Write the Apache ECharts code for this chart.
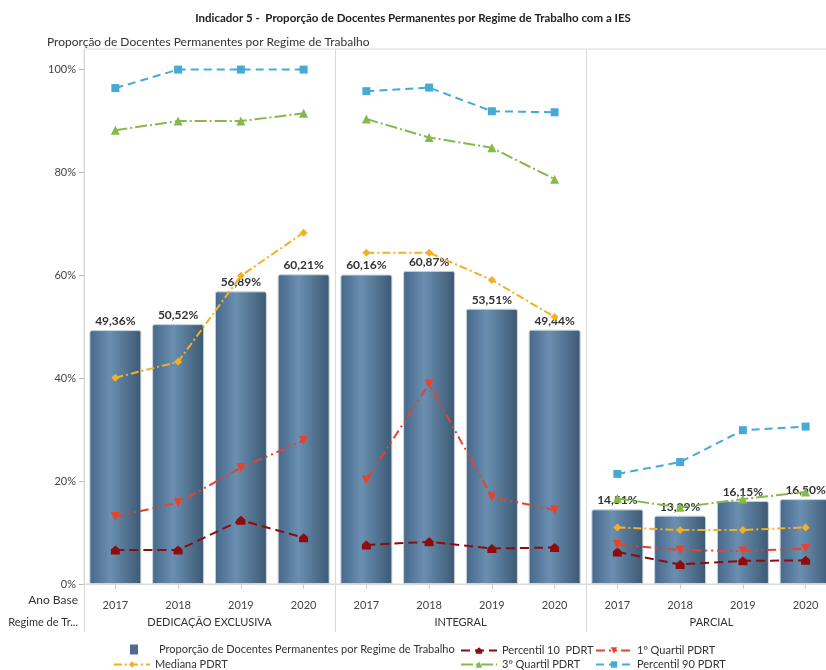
<!DOCTYPE html>
<html>
<head>
<meta charset="utf-8">
<script src="https://cdn.jsdelivr.net/npm/echarts@6/dist/echarts.min.js"></script>
<style>
  html, body { margin: 0; padding: 0; background: #fff; }
  #chart { width: 826px; height: 670px; }
</style>
</head>
<body>
<div id="chart"></div>
<script>
// Groups (regime de trabalho) and base years shown on the x axis
const groups = ['DEDICAÇÃO EXCLUSIVA', 'INTEGRAL', 'PARCIAL'];
const years = ['2017', '2018', '2019', '2020'];
const yTicks = [0, 20, 40, 60, 80, 100];

// Proportion of permanent teachers per regime (bars), 4 years per group
const proporcao = [49.36, 50.52, 56.89, 60.21, 60.16, 60.87, 53.51, 49.44, 14.51, 13.29, 16.15, 16.50];

// Reference percentiles (PDRT)
const percentil10 = [6.6, 6.6, 12.4, 9.0, 7.6, 8.2, 6.9, 7.1, 6.2, 3.8, 4.5, 4.6];
const quartil1 = [13.1, 15.8, 22.6, 27.9, 20.2, 38.9, 16.9, 14.4, 7.7, 6.6, 6.4, 6.9];
const mediana = [40.1, 43.2, 59.9, 68.3, 64.4, 64.4, 59.1, 51.9, 11.0, 10.5, 10.5, 11.0];
const quartil3 = [88.2, 90.0, 90.0, 91.5, 90.4, 86.8, 84.8, 78.7, 16.6, 14.9, 16.5, 17.9];
const percentil90 = [96.4, 100, 100, 100, 95.8, 96.5, 91.9, 91.7, 21.4, 23.7, 29.9, 30.6];

const FONT = 'Lato';
const categories = [];
groups.forEach((g, gi) => years.forEach((y, yi) => categories.push(gi * years.length + yi)));

const barName = 'Proporção de Docentes Permanentes por Regime de Trabalho';

const lineDefs = [
  { name: 'Percentil 10  PDRT', data: percentil10, color: '#8e0c0c', dash: [9, 5],
    symbol: 'path://M0,4 L5,0 L10,4 L10,9 L0,9 Z', size: 9, rotate: 0 },
  { name: '1º Quartil PDRT', data: quartil1, color: '#e5432d', dash: [9, 4, 2, 4, 2, 4],
    symbol: 'triangle', size: 9, rotate: 180 },
  { name: 'Mediana PDRT', data: mediana, color: '#f4b020', dash: [8, 3, 2, 3],
    symbol: 'diamond', size: 8, rotate: 0 },
  { name: '3º Quartil PDRT', data: quartil3, color: '#86b94c', dash: [12, 3, 2, 3],
    symbol: 'triangle', size: 9, rotate: 0 },
  { name: 'Percentil 90 PDRT', data: percentil90, color: '#46a9d6', dash: [8, 5],
    symbol: 'rect', size: 8, rotate: 0 }
];

// One line segment per group so lines break between panels
const lineSeries = [];
lineDefs.forEach(def => {
  groups.forEach((g, gi) => {
    const d = def.data.map((v, i) => (Math.floor(i / years.length) === gi ? v : '-'));
    lineSeries.push({
      type: 'line',
      name: def.name,
      data: d,
      xAxisIndex: 0,
      yAxisIndex: 0,
      z: 5,
      symbol: def.symbol,
      symbolSize: def.size,
      symbolRotate: def.rotate,
      connectNulls: false,
      itemStyle: { color: def.color },
      lineStyle: { color: def.color, width: 2, type: def.dash },
      emphasis: { disabled: true }
    });
  });
});

const barGradient = new echarts.graphic.LinearGradient(0, 0, 1, 0, [
  { offset: 0, color: '#46678a' },
  { offset: 0.4, color: '#6a8fb0' },
  { offset: 1, color: '#3c5973' }
]);

function legendAt(name, left, top, extra) {
  return Object.assign({
    data: [name],
    left: left,
    top: top,
    orient: 'horizontal',
    itemWidth: 36,
    itemHeight: 8,
    padding: 0,
    selectedMode: false,
    textStyle: { fontFamily: FONT, fontSize: 11, color: '#333' }
  }, extra || {});
}

const option = {
  backgroundColor: '#fff',
  animation: false,
  title: [
    {
      text: 'Indicador 5 -  Proporção de Docentes Permanentes por Regime de Trabalho com a IES',
      left: 'center',
      top: 12,
      padding: 0,
      textStyle: { fontFamily: FONT, fontSize: 11.5, fontWeight: 'bold', color: '#222' }
    },
    {
      text: 'Proporção de Docentes Permanentes por Regime de Trabalho',
      left: 47,
      top: 36,
      padding: 0,
      textStyle: { fontFamily: FONT, fontSize: 12, fontWeight: 'normal', color: '#333' }
    }
  ],
  grid: {
    left: 84,
    top: 49,
    width: 753,
    height: 535,
    show: true,
    borderColor: '#dadada',
    borderWidth: 1,
    containLabel: false,
    outerBoundsMode: 'none'
  },
  legend: [
    legendAt(barName, 130, 644, { itemWidth: 8, itemHeight: 10, icon: 'rect',
      itemStyle: { color: '#4e6d8c', borderWidth: 0 },
      textStyle: { fontFamily: FONT, fontSize: 11, color: '#333', padding: [0, 0, 0, 16] } }),
    legendAt('Percentil 10  PDRT', 460, 645),
    legendAt('1º Quartil PDRT', 595, 645),
    legendAt('Mediana PDRT', 113, 659),
    legendAt('3º Quartil PDRT', 460, 659),
    legendAt('Percentil 90 PDRT', 595, 659)
  ],
  xAxis: [
    {
      type: 'category',
      data: categories,
      position: 'bottom',
      offset: 8,
      axisLine: { show: true, lineStyle: { color: '#dadada', width: 1 } },
      axisTick: { show: true, alignWithLabel: true, length: 5, lineStyle: { color: '#cfcfcf' } },
      axisLabel: {
        margin: 8,
        fontFamily: FONT,
        fontSize: 11,
        color: '#444',
        formatter: v => years[Number(v) % years.length]
      },
      splitLine: { show: false }
    },
    {
      type: 'category',
      data: groups,
      position: 'bottom',
      offset: 0,
      axisLine: { show: false },
      axisTick: { show: true, length: 48, lineStyle: { color: '#dadada' } },
      axisLabel: { margin: 33, fontFamily: FONT, fontSize: 11, color: '#333' },
      splitLine: { show: true, lineStyle: { color: '#dadada', width: 1 } }
    }
  ],
  yAxis: {
    type: 'value',
    min: 0,
    max: 104,
    interval: 20,
    axisLine: { show: false },
    axisTick: { show: true, length: 5, lineStyle: { color: '#bbb' }, customValues: yTicks },
    axisLabel: {
      fontFamily: FONT,
      fontSize: 11,
      color: '#444',
      margin: 8,
      customValues: yTicks,
      formatter: v => v + '%'
    },
    splitLine: { show: false }
  },
  graphic: [
    {
      type: 'text', right: 826 - 78, top: 594,
      style: { text: 'Ano Base', fontFamily: FONT, fontSize: 12, fill: '#333', textAlign: 'right' }
    },
    {
      type: 'text', right: 826 - 78, top: 617,
      style: { text: 'Regime de Tr...', fontFamily: FONT, fontSize: 11, fill: '#333', textAlign: 'right' }
    }
  ],
  series: [
    {
      type: 'bar',
      name: barName,
      data: proporcao,
      xAxisIndex: 0,
      yAxisIndex: 0,
      barWidth: 52,
      z: 2,
      itemStyle: {
        color: barGradient,
        borderColor: '#cdd5dd',
        borderWidth: 1,
        borderRadius: [2, 2, 0, 0]
      },
      label: {
        show: true,
        position: 'top',
        distance: 3,
        fontFamily: FONT,
        fontSize: 12,
        fontWeight: 'bold',
        color: '#333',
        formatter: p => p.value.toFixed(2).replace('.', ',') + '%'
      },
      emphasis: { disabled: true }
    }
  ].concat(lineSeries)
};

const chart = echarts.init(document.getElementById('chart'), null, { renderer: 'canvas' });
chart.setOption(option);
</script>
</body>
</html>
